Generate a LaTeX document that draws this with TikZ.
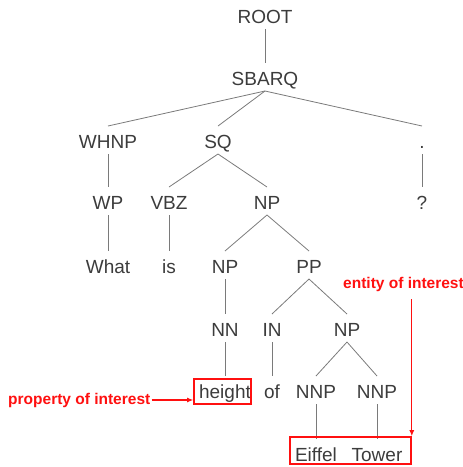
\documentclass[tikz,border=0pt]{standalone}
\usepackage{fontspec}
\setmainfont{Liberation Sans}
\usetikzlibrary{arrows.meta}
\definecolor{txt}{HTML}{3C3C3C}
\definecolor{edg}{HTML}{7A7A7A}
\definecolor{hl}{HTML}{FF1010}
\begin{document}
\begin{tikzpicture}[x=1pt,y=-1pt,
  t/.style={anchor=base,text=txt,inner sep=0pt,font=\fontsize{19}{22}\selectfont},
  edge/.style={draw=edg,line width=0.8pt},
  redbox/.style={draw=hl,line width=1.6pt,inner sep=0pt},
  redlabel/.style={text=hl,font=\fontsize{15.5}{18}\selectfont\bfseries,inner sep=0pt},
  redarrow/.style={draw=hl,line width=1.1pt,-{Latex[length=6pt,width=5pt]}}]
\useasboundingbox (0,0) rectangle (463,467);
\node[t] (root) at (265,23) {ROOT};
\node[t] (sbarq) at (265,85) {SBARQ};
\node[t] (whnp) at (108,148) {WHNP};
\node[t] (sq) at (218,148) {SQ};
\node[t] (dot) at (422,148) {.};
\node[t] (wp) at (108,209) {WP};
\node[t] (vbz) at (169,209) {VBZ};
\node[t] (npa) at (267,209) {NP};
\node[t] (qm) at (422,209) {?};
\node[t] (what) at (108,273) {What};
\node[t] (is) at (169,273) {is};
\node[t] (npb) at (225,273) {NP};
\node[t] (pp) at (309,273) {PP};
\node[t] (nn) at (225,336) {NN};
\node[t] (in) at (272,336) {IN};
\node[t] (npc) at (347,336) {NP};
\node[t] (height) at (225,398) {height};
\node[t] (of) at (272,398) {of};
\node[t] (nnpa) at (316,398) {NNP};
\node[t] (nnpb) at (377,398) {NNP};
\node[t] (eiffel) at (316,461) {Eiffel};
\node[t] (tower) at (377,461) {Tower};
\foreach \p/\c in {root/sbarq,sbarq/whnp,sbarq/sq,sbarq/dot,whnp/wp,sq/vbz,sq/npa,dot/qm,
  wp/what,vbz/is,npa/npb,npa/pp,npb/nn,pp/in,pp/npc,nn/height,in/of,npc/nnpa,npc/nnpb,
  nnpa/eiffel,nnpb/tower}
  \draw[edge] ([yshift=-6pt]\p.base) -- ([yshift=22pt]\c.base);
\node[redbox,minimum width=57pt,minimum height=25pt] (hbox) at (222.5,391.5) {};
\node[redbox,minimum width=121pt,minimum height=27pt] (ebox) at (350.5,450.5) {};
\node[redlabel,anchor=base west] (prop) at (8,404) {property of interest};
\node[redlabel,anchor=base west] (ent) at (343,288) {entity of interest};
\draw[redarrow] ([xshift=1pt]prop.east) -- (prop.east -| hbox.west);
\draw[redarrow] ([yshift=-8pt]ent.south -| ebox.north east) -- (ebox.north east);
\end{tikzpicture}
\end{document}
